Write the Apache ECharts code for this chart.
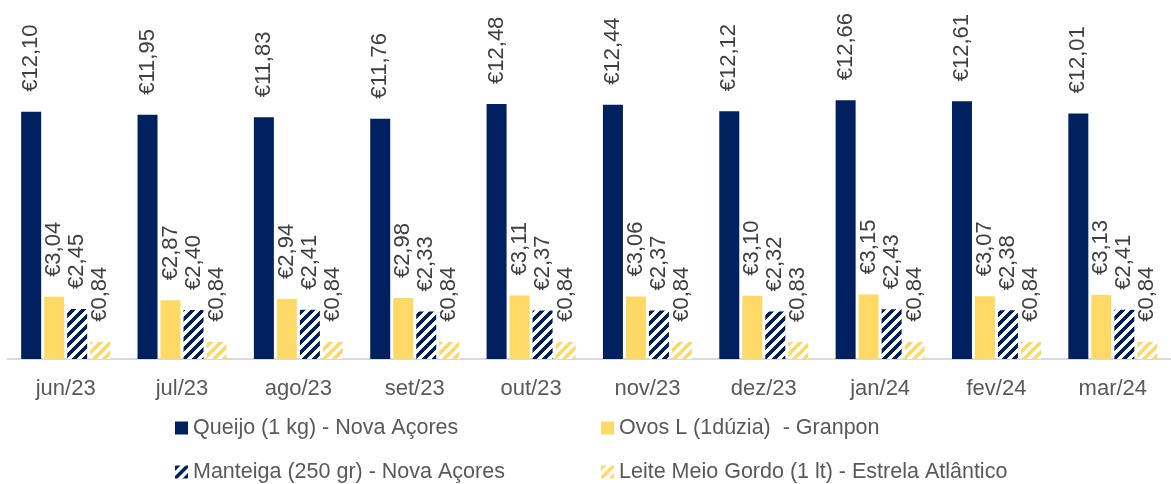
<!DOCTYPE html>
<html><head><meta charset="utf-8">
<script src="https://cdn.jsdelivr.net/npm/echarts@6/dist/echarts.min.js"></script>
<style>html,body{margin:0;padding:0;background:#fff}#c{width:1171px;height:484px}</style>
</head><body><div id="c"></div>
<script>
const categories = ['jun/23','jul/23','ago/23','set/23','out/23','nov/23','dez/23','jan/24','fev/24','mar/24'];
const queijo = [12.10, 11.95, 11.83, 11.76, 12.48, 12.44, 12.12, 12.66, 12.61, 12.01];
const ovos = [3.04, 2.87, 2.94, 2.98, 3.11, 3.06, 3.10, 3.15, 3.07, 3.13];
const manteiga = [2.45, 2.40, 2.41, 2.33, 2.37, 2.37, 2.32, 2.43, 2.38, 2.41];
const leite = [0.84, 0.84, 0.84, 0.84, 0.84, 0.84, 0.83, 0.84, 0.84, 0.84];
const seriesNames = ['Queijo (1 kg) - Nova Açores', 'Ovos L (1dúzia)  - Granpon', 'Manteiga (250 gr) - Nova Açores', 'Leite Meio Gordo (1 lt) - Estrela Atlântico'];

const BLUE = '#002060', YELLOW = '#FFD966';
function stripe(fg) {
  const n = 10, c = document.createElement('canvas');
  c.width = n; c.height = n;
  const ctx = c.getContext('2d');
  const img = ctx.createImageData(n, n);
  const r = parseInt(fg.slice(1,3),16), g = parseInt(fg.slice(3,5),16), b = parseInt(fg.slice(5,7),16);
  for (let y = 0; y < n; y++) for (let x = 0; x < n; x++) {
    const i = (y*n + x)*4;
    const on = ((x + y) % n) < 5;
    img.data[i] = on ? r : 255; img.data[i+1] = on ? g : 255; img.data[i+2] = on ? b : 255; img.data[i+3] = 255;
  }
  ctx.putImageData(img, 0, 0);
  return {image: c, repeat: 'repeat'};
}

const fmt = p => '€' + p.value.toFixed(2).replace('.', ',');
const label = {show: true, position: 'top', rotate: 90, align: 'left', verticalAlign: 'middle', distance: 20,
  formatter: fmt, color: '#404040', fontFamily: 'Liberation Sans', fontSize: 22};

function mk(name, data, color) {
  return {name, type: 'bar', data, barWidth: 20, barGap: '15%', itemStyle: {color}, label, animation: false};
}

const legendText = {color: '#595959', fontFamily: 'Liberation Sans', fontSize: 21.5, lineHeight: 22};
function lg(name, left, top) {
  return {data: [name], left, top, itemWidth: 13, itemHeight: 13, icon: 'rect', itemGap: 7,
    padding: 0, itemStyle: {borderWidth: 0}, textStyle: legendText};
}

const chart = echarts.init(document.getElementById('c'));
chart.setOption({
  animation: false,
  grid: {left: 7.5, right: -7.5, top: 32, bottom: 125, containLabel: false},
  xAxis: {type: 'category', data: categories,
    axisLine: {lineStyle: {color: '#d9d9d9', width: 2}}, axisTick: {show: false},
    axisLabel: {color: '#595959', fontFamily: 'Liberation Sans', fontSize: 22, margin: 19}},
  yAxis: {type: 'value', min: 0, max: 16, show: false, splitLine: {show: false}},
  legend: [
    lg(seriesNames[0], 175, 417),
    lg(seriesNames[1], 601, 417),
    lg(seriesNames[2], 175, 461),
    lg(seriesNames[3], 601, 461)
  ],
  series: [
    mk(seriesNames[0], queijo, BLUE),
    mk(seriesNames[1], ovos, YELLOW),
    mk(seriesNames[2], manteiga, stripe(BLUE)),
    mk(seriesNames[3], leite, stripe(YELLOW))
  ]
});
</script></body></html>
